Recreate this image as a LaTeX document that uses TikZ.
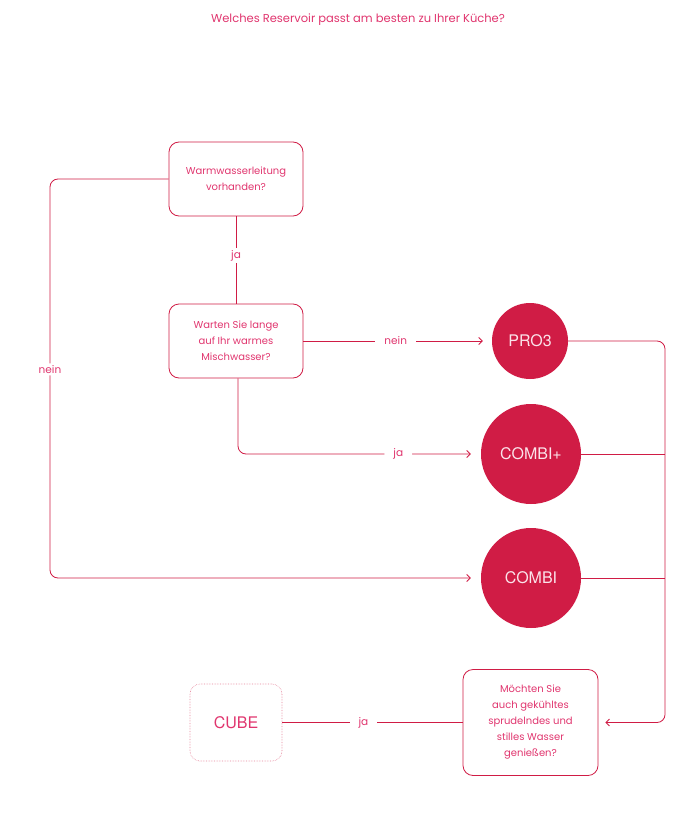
\documentclass[tikz,border=0pt]{standalone}
\usepackage{fontspec}
\setmainfont{Poppins}
\newfontfamily\prodfont{TeX Gyre Heros}
\usetikzlibrary{arrows.meta,positioning}
\definecolor{crim}{HTML}{D01C45}
\definecolor{pinktxt}{HTML}{E0356E}
\definecolor{circtxt}{HTML}{FBE3EA}
\tikzset{
  qbox/.style={draw=crim, line width=0.8pt, rounded corners=10pt, minimum width=134pt, text=pinktxt, align=center, font=\fontsize{10}{16}\selectfont, inner sep=0pt},
  prod/.style={circle, fill=crim, draw=none, text=circtxt, font=\prodfont\fontsize{16}{18}\selectfont, inner sep=0pt},
  conn/.style={draw=crim, line width=0.8pt},
  arr/.style={conn, -{Straight Barb[length=3.5pt,width=7pt]}},
  lbl/.style={fill=white, text=pinktxt, font=\fontsize{10.5}{12}\selectfont, inner xsep=9pt, inner ysep=2pt},
}
\begin{document}
\begin{tikzpicture}[x=1pt,y=-1pt]
\useasboundingbox (0,0) rectangle (683,813);
\node[text=pinktxt, font=\fontsize{11.5}{13}\selectfont] (title) at (358,20) {Welches Reservoir passt am besten zu Ihrer Küche?};
\node[qbox, minimum height=74pt] (b1) at (236,179) {Warmwasserleitung\\vorhanden?};
\node[qbox, minimum height=74pt] (b2) at (236,341) {Warten Sie lange\\auf Ihr warmes\\Mischwasser?};
\node[qbox, minimum width=135pt, minimum height=106pt] (b3) at (530.5,722.5) {Möchten Sie\\auch gekühltes\\sprudelndes und\\stilles Wasser\\genießen?};
\node[draw=crim!55, densely dotted, line width=0.6pt, rounded corners=10pt, minimum width=92pt, minimum height=77pt, text=pinktxt, font=\prodfont\fontsize{16}{18}\selectfont, inner sep=0pt] (cube) at (236,722.5) {CUBE};
\node[prod, minimum size=76pt] (pro3) at (530,341) {PRO3};
\node[prod, minimum size=100pt] (combip) at (531,454) {COMBI+};
\node[prod, minimum size=100pt] (combi) at (531,578) {COMBI};
% coordinates
\coordinate (l1) at (50,179);
\coordinate (l2) at (50,578);
\coordinate (d1) at (238,454);
\coordinate (r1) at (665,341);
\coordinate (r2) at (665,722.5);
\coordinate (r3) at (665,454);
\coordinate (r4) at (665,578);
% connectors
\draw[conn] (b1.south) -- node[lbl, pos=0.45]{ja} (b2.north);
\draw[arr, shorten >=9pt] (b2.east) -- node[lbl, pos=0.49]{nein} (pro3.west);
\draw[arr, rounded corners=8pt, shorten >=10pt] (b2.south -| d1) -- (d1) -- node[lbl, pos=0.66]{ja} (combip.west);
\draw[arr, rounded corners=8pt, shorten >=10pt] (b1.west) -- (l1) -- node[lbl, pos=0.477]{nein} (l2) -- (combi.west);
\draw[arr, rounded corners=8pt, shorten >=7pt] (pro3.east) -- (r1) -- (r2) -- (b3.east);
\draw[conn] (combip.east) -- (r3);
\draw[conn] (combi.east) -- (r4);
\draw[conn] (b3.west) -- node[lbl, pos=0.55]{ja} (cube.east);
\end{tikzpicture}
\end{document}
